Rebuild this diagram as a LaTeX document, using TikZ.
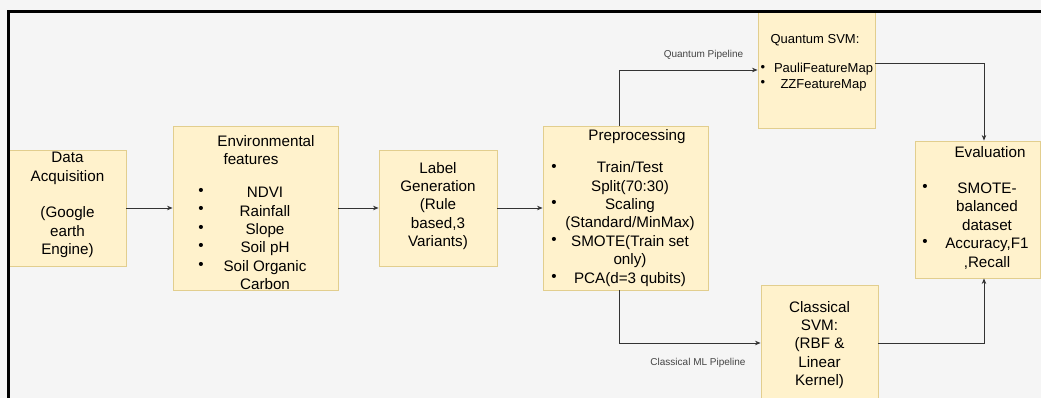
\documentclass[tikz,border=0pt]{standalone}
\usepackage{fontspec}
\setmainfont{Liberation Sans}
\usetikzlibrary{arrows.meta}
\definecolor{bg}{HTML}{F5F5F5}
\definecolor{boxfill}{HTML}{FFF2CC}
\definecolor{boxline}{HTML}{E2CE8E}
\definecolor{wire}{HTML}{333333}
\definecolor{note}{HTML}{444444}

\begin{document}
\begin{tikzpicture}[x=1pt,y=-1pt,
  box/.style={draw=boxline, fill=boxfill, line width=0.9pt, inner sep=0pt},
  txt/.style={align=center, inner sep=0pt, font=\fontsize{15.2}{18.4}\selectfont},
  small/.style={align=center, inner sep=0pt, font=\fontsize{13}{15.5}\selectfont},
  bul/.style={inner sep=0pt, font=\fontsize{15.2}{18.4}\selectfont},
  sbul/.style={inner sep=0pt, font=\fontsize{13}{15.5}\selectfont},
  conn/.style={draw=wire, line width=0.8pt, -{Stealth[length=5.5pt,width=4.5pt]}},
  tag/.style={inner sep=0pt, text=note, font=\fontsize{10}{12}\selectfont},
]
\useasboundingbox (0,0) rectangle (1041,398);
\clip (0,0) rectangle (1041,398);
\fill[bg] (0,0) rectangle (1041,398);

% process boxes
\node[box, minimum width=117pt, minimum height=116pt] (da) at (67.5,208) {};
\node[box, minimum width=165pt, minimum height=164pt] (ef) at (255.5,208) {};
\node[box, minimum width=118pt, minimum height=116pt] (lg) at (438,208) {};
\node[box, minimum width=165pt, minimum height=164pt] (pp) at (625.5,208) {};
\node[box, minimum width=117pt, minimum height=116pt] (qs) at (816.5,70) {};
\node[box, minimum width=125pt, minimum height=137pt] (ev) at (977.5,209.5) {};
\node[box, minimum width=117pt, minimum height=116pt] (cs) at (819.5,343) {};

% outer frame
\draw[black, line width=2.1pt] (8.5,420) |- (1060,11.5);

% box contents
\node[txt] (da-t) at (67.5,205) {Data\\Acquisition\\[18.4pt](Google\\earth\\Engine)};

\node[txt] (ef-h) at (266,150) {Environmental\\features\hspace*{30pt}};
\node[txt] (ef-t) at (265,238.5) {NDVI\\Rainfall\\Slope\\Soil pH\\Soil Organic\\Carbon};
\foreach \y [count=\i] in {192,210.4,228.8,247.2,265.6}
  \node[bul] (ef-b\i) at (201,\y) {\textbullet};

\node[txt] (lg-t) at (438,206) {Label\\Generation\\(Rule\\based,3\\Variants)};

\node[txt] (pp-h) at (637,136.5) {Preprocessing};
\node[txt] (pp-t) at (630,224) {Train/Test\\Split(70:30)\\Scaling\\(Standard/MinMax)\\SMOTE(Train set\\only)\\PCA(d=3 qubits)};
\foreach \y [count=\i] in {167.5,204,241,277.5}
  \node[bul] (pp-b\i) at (554,\y) {\textbullet};

\node[small] (qs-h) at (815,40.5) {Quantum SVM:};
\node[small] (qs-t) at (823.5,77) {PauliFeatureMap\\ZZFeatureMap};
\foreach \y [count=\i] in {68,83.5}
  \node[sbul] (qs-b\i) at (763,\y) {\textbullet};

\node[txt] (ev-h) at (990,152) {Evaluation};
\node[txt] (ev-t) at (987,226) {SMOTE-\\balanced\\dataset\\Accuracy,F1\\,Recall};
\foreach \y [count=\i] in {188.2,243.4}
  \node[bul] (ev-b\i) at (925,\y) {\textbullet};

\node[txt] (cs-t) at (819.5,345) {Classical\\SVM:\\(RBF \&\\Linear\\Kernel)};

% main flow
\draw[conn] (da) -- (ef);
\draw[conn] (ef) -- (lg);
\draw[conn] (lg) -- (pp);

% the two pipelines
\coordinate (split) at (619,0);
\coordinate (merge) at (984,0);
\draw[conn] (split |- pp.north) |- (qs.west);
\draw[conn] (split |- pp.south) |- (cs.west);
\draw[conn] ([yshift=7pt]qs.east) -| (merge |- ev.north);
\draw[conn] (cs.east) -| (merge |- ev.south);

\node[tag] (qtag) at (703.5,55) {Quantum Pipeline};
\node[tag] (ctag) at (698,363) {Classical ML Pipeline};
\end{tikzpicture}
\end{document}
